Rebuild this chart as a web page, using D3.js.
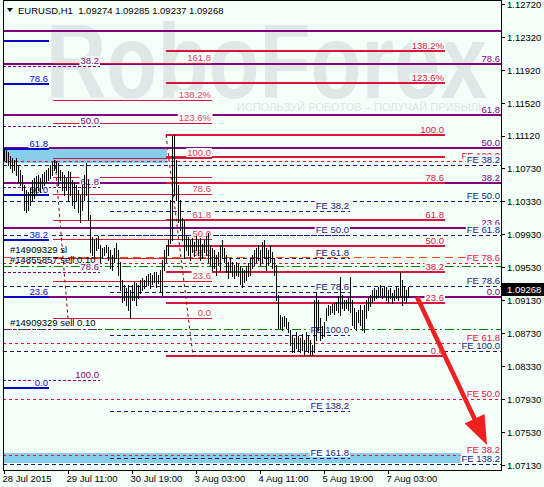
<!doctype html>
<html>
<head>
<meta charset="utf-8">
<script src="https://cdn.jsdelivr.net/npm/d3@7"></script>
<style>
  body { margin: 0; background: #f5fffa; }
  svg { display: block; font-family: "Liberation Sans", Arial, sans-serif; }
</style>
</head>
<body>
<svg id="chart" width="544" height="487"></svg>
<script>
// ---- data ----
var titleText = "EURUSD,H1  1.09274 1.09285 1.09237 1.09268";
var lastPrice = 1.09268;
var priceTicks = [1.12720, 1.12320, 1.11920, 1.11520, 1.11120, 1.10730, 1.10330, 1.09930, 1.09530, 1.09130, 1.08730, 1.08330, 1.07930, 1.07530, 1.07130];
var timeTickBars = [0, 32, 64, 96, 128, 160, 192];
var timeTickLabels = ["28 Jul 2015", "29 Jul 11:00", "30 Jul 19:00", "3 Aug 03:00", "4 Aug 11:00", "5 Aug 19:00", "7 Aug 03:00"];

// H1 bars, high / low
var barHigh = [1.1097,1.1095,1.1093,1.1088,1.1085,1.1083,1.1085,1.1077,1.1071,1.1065,
  1.1053,1.1047,1.1044,1.1049,1.1059,1.1061,1.1063,1.1065,1.1061,1.1066,
  1.1068,1.1071,1.1073,1.1077,1.1080,1.1083,1.1082,1.1079,1.1071,1.1068,
  1.1065,1.1061,1.1070,1.1068,1.1059,1.1056,1.1053,1.1047,1.1040,1.1053,
  1.1065,1.1079,1.1059,1.1016,1.0990,1.0986,1.0988,1.0991,1.0980,1.0976,
  1.0977,1.0980,1.0977,1.0974,1.0968,1.0976,1.0982,1.0974,1.0959,1.0937,
  1.0931,1.0928,1.0931,1.0925,1.0931,1.0935,1.0934,1.0931,1.0937,1.0940,
  1.0937,1.0942,1.0945,1.0946,1.0943,1.0947,1.0947,1.0943,1.0950,1.0962,
  1.0974,1.0980,1.0986,1.1034,1.1112,1.1113,1.1083,1.1053,1.1034,1.1013,
  1.1010,1.0992,1.0990,1.0986,1.0988,1.0983,1.0991,1.0986,1.0988,1.0981,
  1.0986,1.0991,1.0994,1.0980,1.0976,1.0974,1.0968,1.0971,1.0980,1.0986,
  1.0976,1.0968,1.0959,1.0964,1.0959,1.0956,1.0959,1.0957,1.0954,1.0952,
  1.0950,1.0954,1.0958,1.0964,1.0968,1.0974,1.0976,1.0980,1.0974,1.0983,
  1.0986,1.0976,1.0974,1.0980,1.0971,1.0964,1.0956,1.0919,1.0895,1.0893,
  1.0894,1.0891,1.0886,1.0877,1.0871,1.0867,1.0874,1.0869,1.0867,1.0872,
  1.0865,1.0874,1.0869,1.0865,1.0859,1.0913,1.0923,1.0913,1.0891,1.0882,
  1.0886,1.0903,1.0907,1.0906,1.0908,1.0910,1.0911,1.0918,1.0941,1.0919,
  1.0913,1.0913,1.0916,1.0941,1.0913,1.0903,1.0899,1.0901,1.0907,1.0901,
  1.0907,1.0913,1.0916,1.0919,1.0925,1.0928,1.0925,1.0929,1.0931,1.0928,
  1.0930,1.0929,1.0925,1.0928,1.0922,1.0925,1.0930,1.0928,1.0947,1.0937,
  1.0929,1.0925,1.0929];
var barLow = [1.1083,1.1080,1.1077,1.1073,1.1068,1.1071,1.1065,1.1056,1.1053,1.1047,
  1.1022,1.1020,1.1022,1.1028,1.1034,1.1037,1.1040,1.1047,1.1044,1.1049,
  1.1053,1.1056,1.1059,1.1061,1.1065,1.1071,1.1068,1.1053,1.1059,1.1047,
  1.1040,1.1047,1.1034,1.1040,1.1028,1.1025,1.1034,1.1020,1.1008,1.1022,
  1.1034,1.1040,1.1010,1.0971,1.0968,1.0964,1.0974,1.0976,1.0959,1.0964,
  1.0968,1.0971,1.0962,1.0952,1.0950,1.0959,1.0964,1.0943,1.0925,1.0911,
  1.0913,1.0907,1.0901,1.0891,1.0913,1.0913,1.0907,1.0916,1.0922,1.0925,
  1.0928,1.0930,1.0931,1.0928,1.0933,1.0935,1.0929,1.0934,1.0923,1.0919,
  1.0950,1.0959,1.0968,1.0982,1.0986,1.1040,1.1034,1.1008,1.0998,1.0986,
  1.0964,1.0974,1.0968,1.0962,1.0971,1.0966,1.0974,1.0968,1.0962,1.0964,
  1.0971,1.0968,1.0959,1.0956,1.0950,1.0952,1.0943,1.0956,1.0950,1.0964,
  1.0959,1.0947,1.0940,1.0947,1.0942,1.0940,1.0943,1.0942,1.0933,1.0929,
  1.0935,1.0937,1.0942,1.0943,1.0952,1.0956,1.0959,1.0962,1.0956,1.0959,
  1.0964,1.0950,1.0956,1.0959,1.0952,1.0943,1.0913,1.0879,1.0879,1.0877,
  1.0882,1.0879,1.0874,1.0859,1.0850,1.0850,1.0855,1.0852,1.0850,1.0852,
  1.0846,1.0852,1.0850,1.0846,1.0846,1.0850,1.0865,1.0877,1.0865,1.0867,
  1.0869,1.0889,1.0895,1.0896,1.0899,1.0896,1.0901,1.0899,1.0895,1.0903,
  1.0901,1.0903,1.0901,1.0899,1.0883,1.0879,1.0877,1.0886,1.0883,1.0877,
  1.0874,1.0891,1.0901,1.0906,1.0911,1.0913,1.0916,1.0917,1.0919,1.0916,
  1.0918,1.0913,1.0911,1.0916,1.0910,1.0913,1.0916,1.0913,1.0918,1.0907,
  1.0913,1.0911,1.0917];

// fibonacci objects: level prices, level texts, time span in bars
var purpleFibPrices = [1.12393, 1.11992, 1.11374, 1.10974, 1.10549, 1.10004, 1.09167];
var purpleFibLabels = ["", "78.6", "61.8", "50.0", "38.2", "23.6", "0.0"];
var purpleFibSpan = [-0.5, 248.5];

var blueFibPrices = [1.12271, 1.11750, 1.10962, 1.10404, 1.09858, 1.09167, 1.08064];
var blueFibLabels = ["", "78.6", "61.8", "50.0", "38.2", "23.6", "0.0"];
var blueFibSpan = [-0.5, 22.5];

var purpleDashPrices = [1.11968, 1.11241, 1.10501, 1.09470, 1.08779, 1.08161];
var purpleDashLabels = ["38.2", "50.0", "61.8", "78.6", "", "100.0"];
var purpleDashSpan = [-0.5, 48];

var thinRedPrices = [1.12005, 1.11556, 1.11277, 1.10853, 1.10622, 1.10416, 1.10101, 1.09870, 1.09640, 1.09361, 1.08912];
var thinRedLabels = ["161.8", "138.2%", "123.6%", "100.0", "", "78.6", "61.8", "50.0", "38.2", "23.6", "0.0"];
var thinRedSpan = [24.5, 104];
var thinRedTrend = [[25.5, 1.10828], [32, 1.08912]];

var thickRedPrices = [1.12150, 1.11762, 1.11131, 1.10865, 1.10549, 1.10101, 1.09785, 1.09470, 1.09094, 1.08452];
var thickRedLabels = ["138.2%", "123.6%", "100.0", "", "78.6", "61.8", "50.0", "38.2", "23.6", "0.0"];
var thickRedSpan = [81, 220.5];
var thickRedTrend = [[81, 1.11131], [94.5, 1.08452]];

var fe1Prices = [1.10210, 1.09919, 1.09640, 1.09228, 1.08706, 1.07785, 1.07215];
var fe1Labels = ["FE 38.2", "FE 50.0", "FE 61.8", "FE 78.6", "FE 100.0", "FE 138.2", "FE 161.8"];
var fe1Span = [53, 173];

var fe2Prices = [1.10768, 1.10331, 1.09919, 1.09300, 1.08512, 1.07142];
var fe2Labels = ["FE 38.2", "FE 50.0", "FE 61.8", "FE 78.6", "FE 100.0", "FE 138.2"];
var fe2Span = [-0.5, 248.5];

var redFePrices = [1.10816, 1.09579, 1.08609, 1.07930, 1.07251];
var redFeLabels = ["FE 100.0", "FE 78.6", "FE 61.8", "FE 50.0", "FE 38.2"];
var redFeSpan = [-0.5, 248.5];

// trade lines
var slPrice = 1.09652, slText = "#14909329 sl";
var sellPrices = [1.09543, 1.08779];
var sellTexts = ["#14855857 sell 0.10", "#14909329 sell 0.10"];

// zones and arrow
var zoneBars = [[-0.5, 81.5], [-0.5, 228.5]];
var zonePrices = [[1.10962, 1.10792], [1.07275, 1.07154]];
var arrowPoints = [[206.5, 1.09167], [241.5, 1.07372]];

// ---- chart ----
var bg = "#f5fffa";
var svg = d3.select("#chart");
svg.append("rect").attr("width", 544).attr("height", 487).attr("fill", bg);

var x = d3.scaleLinear().domain([-0.5, 248.5]).range([3, 501]);
var y = d3.scaleLinear().domain([1.07130, 1.12720]).range([465, 4]);

// watermark
svg.append("text").attr("x", 46).attr("y", 98)
  .attr("textLength", 441).attr("lengthAdjust", "spacingAndGlyphs")
  .style("font-size", "106px").style("font-weight", "bold")
  .attr("fill", "#dfe8e7").text("RoboForex");
svg.append("text").attr("x", 237).attr("y", 111)
  .attr("textLength", 248).attr("lengthAdjust", "spacingAndGlyphs")
  .style("font-size", "11.5px").attr("fill", "#dbe5e4")
  .text("ИСПОЛЬЗУЙ РОБОТОВ – ПОЛУЧАЙ ПРИБЫЛЬ");

var plot = svg.append("g").attr("shape-rendering", "crispEdges");

// light blue zones
zoneBars.forEach(function(b, k) {
  plot.append("rect")
    .attr("x", x(b[0])).attr("width", x(b[1]) - x(b[0]))
    .attr("y", y(zonePrices[k][0])).attr("height", y(zonePrices[k][1]) - y(zonePrices[k][0]))
    .attr("fill", "#87ceeb");
});

function levels(prices, span, color, width, dash) {
  prices.forEach(function(p) {
    var yy = Math.round(y(p)) + (width % 2 ? 0.5 : 0);
    plot.append("line")
      .attr("x1", x(span[0])).attr("x2", x(span[1]))
      .attr("y1", yy).attr("y2", yy)
      .attr("stroke", color).attr("stroke-width", width)
      .attr("stroke-dasharray", dash || null);
  });
}

// dashed expansion levels and trade lines
levels(redFePrices, redFeSpan, "#dc143c", 1, "3,3");
levels(fe2Prices, fe2Span, "#1a1a80", 1, "4,3");
levels(fe1Prices, fe1Span, "#1a1a80", 1, "4,3");
levels(sellPrices, [-0.5, 248.5], "#008000", 1, "9,3,2,3");
levels([slPrice], [-0.5, 248.5], "#ff4a00", 1, "8,5");
levels(purpleDashPrices, purpleDashSpan, "#800080", 1, "3,2");

// solid retracement levels
levels(purpleFibPrices, purpleFibSpan, "#800080", 2);
levels(blueFibPrices, blueFibSpan, "#0a0acd", 2);
levels(thinRedPrices, thinRedSpan, "#dc143c", 1);
levels(thickRedPrices, thickRedSpan, "#dc143c", 2);

// fib trend lines
[thinRedTrend, thickRedTrend].forEach(function(t) {
  svg.append("line")
    .attr("x1", x(t[0][0])).attr("y1", y(t[0][1]))
    .attr("x2", x(t[1][0])).attr("y2", y(t[1][1]))
    .attr("stroke", "#8b0000").attr("stroke-width", 1).attr("stroke-dasharray", "3,3");
});

// level captions with a background box
var lab = svg.append("g").style("font-size", "9.5px");
function captions(prices, labels, span, color) {
  prices.forEach(function(p, k) {
    if (!labels[k]) return;
    var r = lab.append("rect").attr("fill", bg);
    var t = lab.append("text")
      .attr("x", x(span[1]) - 1).attr("y", Math.round(y(p)) - 2)
      .attr("text-anchor", "end").attr("fill", color).text(labels[k]);
    var b = t.node().getBBox();
    r.attr("x", b.x - 1).attr("y", b.y + 1).attr("width", b.width + 2)
     .attr("height", Math.max(0, Math.round(y(p)) - 1 - (b.y + 1)));
  });
}
captions(purpleDashPrices, purpleDashLabels, purpleDashSpan, "#800080");
captions(blueFibPrices, blueFibLabels, blueFibSpan, "#0a0acd");
captions(thinRedPrices, thinRedLabels, thinRedSpan, "#e8405f");
captions(thickRedPrices, thickRedLabels, thickRedSpan, "#dc143c");
captions(fe1Prices, fe1Labels, fe1Span, "#1a1a80");
captions(purpleFibPrices, purpleFibLabels, purpleFibSpan, "#800080");
captions(redFePrices, redFeLabels, redFeSpan, "#dc143c");
captions(fe2Prices, fe2Labels, fe2Span, "#1a1a80");

// trade texts
var trades = svg.append("g").style("font-size", "9.5px").attr("fill", "#000");
trades.append("text").attr("x", 10).attr("y", y(slPrice) - 4).text(slText);
sellPrices.forEach(function(p, k) {
  trades.append("text").attr("x", 10).attr("y", y(p) - 3).text(sellTexts[k]);
});

// price bars
svg.append("g").attr("shape-rendering", "crispEdges")
  .selectAll("line").data(barHigh).join("line")
  .attr("x1", function(d, i) { return Math.round(x(i)) + 0.5; })
  .attr("x2", function(d, i) { return Math.round(x(i)) + 0.5; })
  .attr("y1", function(d) { return y(d); })
  .attr("y2", function(d, i) { return y(barLow[i]) + 1; })
  .attr("stroke", "#000").attr("stroke-width", 1);

// red arrow
(function() {
  var x0 = x(arrowPoints[0][0]), y0 = y(arrowPoints[0][1]);
  var x1 = x(arrowPoints[1][0]), y1 = y(arrowPoints[1][1]);
  var dx = x1 - x0, dy = y1 - y0, len = Math.sqrt(dx * dx + dy * dy);
  var ux = dx / len, uy = dy / len, head = 29, half = 11;
  var bx = x1 - ux * head, by = y1 - uy * head;
  svg.append("line").attr("x1", x0).attr("y1", y0).attr("x2", bx + ux * 4).attr("y2", by + uy * 4)
    .attr("stroke", "#ee2020").attr("stroke-width", 4.5);
  svg.append("path")
    .attr("d", "M" + x1 + "," + y1 + "L" + (bx - uy * half) + "," + (by + ux * half) +
      "L" + (bx + uy * half) + "," + (by - ux * half) + "Z")
    .attr("fill", "#ee2020");
})();

// frame
svg.append("rect").attr("x", 3.5).attr("y", 0.5).attr("width", 497.5).attr("height", 469.5)
  .attr("fill", "none").attr("stroke", "#000").attr("shape-rendering", "crispEdges");

// axes
var yAxis = svg.append("g").attr("transform", "translate(501,0)")
  .call(d3.axisRight(y).tickValues(priceTicks).tickSize(4).tickPadding(2).tickFormat(d3.format(".5f")));
var xAxis = svg.append("g").attr("transform", "translate(0,470)")
  .call(d3.axisBottom(x).tickValues(timeTickBars).tickSize(4).tickPadding(1)
    .tickFormat(function(d, i) { return timeTickLabels[i]; }));
[yAxis, xAxis].forEach(function(a) {
  a.select(".domain").remove();
  a.selectAll("line").attr("stroke", "#000").attr("shape-rendering", "crispEdges");
  a.selectAll("text").attr("fill", "#000").style("font-size", "9.5px")
    .style("font-family", "'Liberation Sans', Arial, sans-serif");
});
xAxis.selectAll("text").attr("text-anchor", "start").attr("x", -2);

// current price box
svg.append("rect").attr("x", 502).attr("y", Math.round(y(lastPrice)) - 6).attr("width", 42).attr("height", 13).attr("fill", "#000");
svg.append("text").attr("x", 507).attr("y", Math.round(y(lastPrice)) + 4)
  .style("font-size", "9.5px").attr("fill", "#fff").text(d3.format(".5f")(lastPrice));

// title
svg.append("path").attr("d", "M7,8L13,8L10,12Z").attr("fill", "#000");
svg.append("text").attr("x", 18).attr("y", 14).style("font-size", "9.5px").attr("fill", "#000")
  .attr("xml:space", "preserve").style("white-space", "pre").text(titleText);
</script>
</body>
</html>
